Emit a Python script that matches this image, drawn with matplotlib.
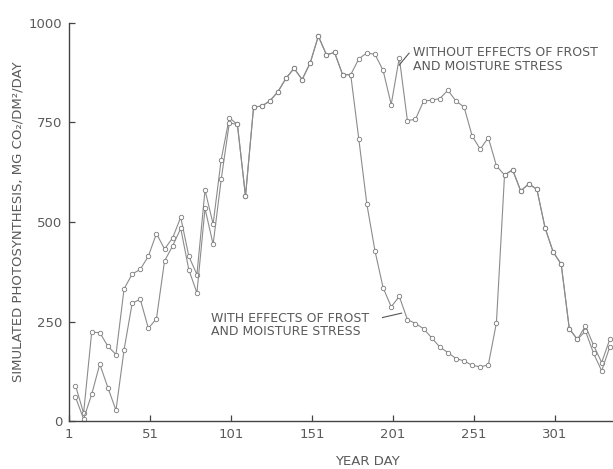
import matplotlib
matplotlib.use("Agg")
import matplotlib.pyplot as plt

# year days of the simulated values (5-day steps)
days = [5, 10, 15, 20, 25, 30, 35, 40, 45, 50, 55, 60, 65, 70, 75, 80, 85, 90,
        95, 100, 105, 110, 115, 120, 125, 130, 135, 140, 145, 150, 155, 160,
        165, 170, 175, 180, 185, 190, 195, 200, 205, 210, 215, 220, 225, 230,
        235, 240, 245, 250, 255, 260, 265, 270, 275, 280, 285, 290, 295, 300,
        305, 310, 315, 320, 325, 330, 335]

# without effects of frost and moisture stress
no_stress = [89, 20, 223, 222, 188, 167, 332, 369, 381, 414, 471, 432, 460, 512,
             414, 368, 580, 495, 657, 762, 745, 565, 789, 791, 804, 827, 861,
             886, 858, 900, 967, 920, 926, 870, 870, 910, 925, 921, 881, 795,
             913, 755, 758, 804, 806, 810, 831, 804, 789, 716, 683, 712, 641,
             618, 631, 578, 596, 582, 486, 425, 394, 232, 205, 239, 190, 147,
             205]

# with effects of frost and moisture stress
with_stress = [60, 5, 67, 143, 84, 27, 179, 296, 306, 233, 257, 402, 440, 484,
               380, 322, 534, 444, 607, 749, 745, 565, 789, 791, 804, 827, 861,
               886, 858, 900, 967, 920, 926, 870, 870, 708, 544, 427, 335, 287,
               313, 255, 245, 232, 209, 186, 172, 157, 151, 140, 136, 141, 247,
               618, 631, 578, 596, 582, 486, 425, 394, 232, 205, 226, 170, 126,
               186]

x_ticks = [1, 51, 101, 151, 201, 251, 301]
y_ticks = [0, 250, 500, 750, 1000]

plt.rcParams['font.family'] = ['DejaVu Sans']
txt = '#5a5a5a'
line_col = '#8c8c8c'

fig = plt.figure(figsize=(6.13, 4.69), dpi=100)
ax = fig.add_axes([0.1126, 0.1023, 0.8874, 0.8487])

for vals in (no_stress, with_stress):
    ax.plot(days, vals, color=line_col, lw=0.8, marker='o', ms=3.2,
            mfc='white', mec='#7a7a7a', mew=0.6, clip_on=False)

ax.set_xlim(1, 337)
ax.set_ylim(0, 1000)
ax.set_xticks(x_ticks)
ax.set_yticks(y_ticks)
ax.spines['top'].set_visible(False)
ax.spines['right'].set_visible(False)
for s in ('left', 'bottom'):
    ax.spines[s].set_color('#444444')
    ax.spines[s].set_linewidth(1.0)
ax.tick_params(direction='in', length=4, width=0.9, color='#444444',
               labelsize=9.5, labelcolor=txt, pad=5)

ax.set_xlabel('YEAR DAY', fontsize=9.5, color=txt)
ax.xaxis.set_label_coords(0.548, -0.085)
ax.set_ylabel('SIMULATED PHOTOSYNTHESIS, MG CO\u2082/DM\u00b2/DAY',
              fontsize=9.5, color=txt)
ax.yaxis.set_label_coords(-0.081, 0.5)

ax.text(213.5, 942, 'WITHOUT EFFECTS OF FROST\nAND MOISTURE STRESS',
        fontsize=9, color=txt, va='top', ha='left', linespacing=1.05)
ax.plot([204.9, 211], [894, 924], color='#555555', lw=0.8)

ax.text(88.5, 274, 'WITH EFFECTS OF FROST\nAND MOISTURE STRESS',
        fontsize=9, color=txt, va='top', ha='left', linespacing=1.05)
ax.plot([194.6, 206.4], [260, 271], color='#555555', lw=0.8)

fig.savefig('out.png', dpi=100)
